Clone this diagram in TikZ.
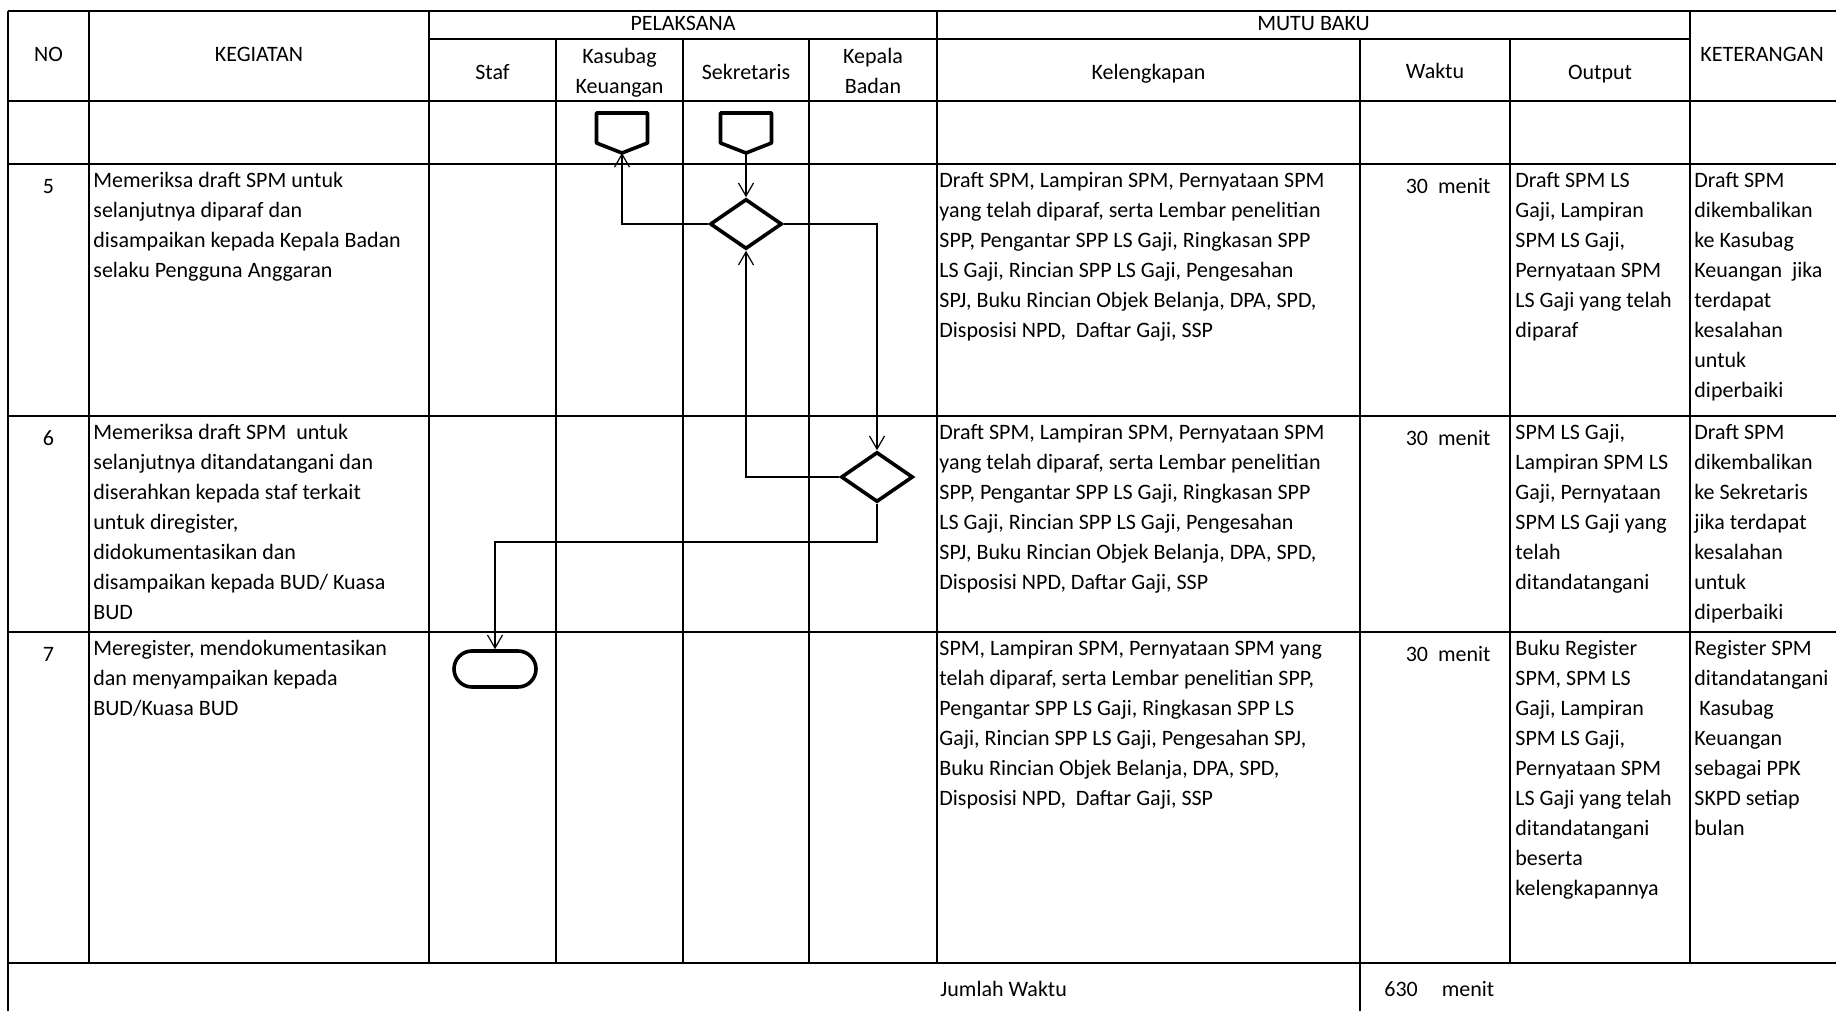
\documentclass[tikz,border=0pt]{standalone}
\usepackage{fontspec}
\setmainfont{Carlito}
\usetikzlibrary{arrows.meta, shapes.geometric, shapes.misc}

\begin{document}
\begin{tikzpicture}[x=0.5pt, y=-0.5pt,
  font=\fontsize{11}{15}\selectfont,
  rowline/.style={line width=1.3pt},
  colline/.style={line width=0.85pt},
  cell/.style={inner sep=0pt, anchor=north west, align=left, execute at begin node=\strut, execute at end node=\strut},
  head/.style={inner sep=0pt, align=center, execute at begin node=\strut, execute at end node=\strut},
  flow/.style={draw, line width=1.8pt, inner sep=0pt},
  decision/.style={flow, diamond, minimum width=36pt, minimum height=25pt},
  terminal/.style={flow, rounded rectangle, minimum width=41pt, minimum height=18pt},
  offpage/.style={inner sep=0pt, outer sep=0pt, minimum width=25.5pt, minimum height=20pt},
  link/.style={line width=0.6pt, -{Straight Barb[length=6.5pt, width=7.5pt]}}]

  \useasboundingbox (0,0) rectangle (1836,1011);
  \clip (0,0) rectangle (1836,1011);

  % Grid
  \foreach \y in {11,101,164,416,632,963}
    \draw[rowline] (8,\y) -- (1836,\y);
  \draw[rowline] (429,39) -- (1690,39);
  \draw[rowline] (8,11) -- (8,1011);
  \foreach \x in {89,429,937,1690}
    \draw[colline] (\x,11) -- (\x,963);
  \foreach \x in {556,683,809,1510}
    \draw[colline] (\x,39) -- (\x,963);
  \draw[colline] (1360,39) -- (1360,1011);

  % Header
  \node[head] (no) at (48.5,56) {NO};
  \node[head] (kegiatan) at (259,56) {KEGIATAN};
  \node[head] (pelaksana) at (683,25) {PELAKSANA};
  \node[head] (mutu) at (1313.5,25) {MUTU BAKU};
  \node[head] (keterangan) at (1762,56) {KETERANGAN};
  \node[head] (staf) at (492.5,74) {Staf};
  \node[head] (kasubaghd) at (619.5,75) {Kasubag\\Keuangan};
  \node[head] (sekretarishd) at (746,74) {Sekretaris};
  \node[head] (kepalahd) at (873,75) {Kepala\\Badan};
  \node[head] (kelengkapan) at (1148.5,74) {Kelengkapan};
  \node[head] (waktu) at (1435,73) {Waktu};
  \node[head] (output) at (1600,74) {Output};

  % Row 5
  \node[cell, anchor=north] (no5) at (48.5,172) {5};
  \node[cell] (keg5) at (93,172) {Memeriksa draft SPM untuk\\selanjutnya diparaf dan\\disampaikan kepada Kepala Badan\\selaku Pengguna Anggaran};
  \node[cell] (kel5) at (939,172) {Draft SPM, Lampiran SPM, Pernyataan SPM\\yang telah diparaf, serta Lembar penelitian\\SPP, Pengantar SPP LS Gaji, Ringkasan SPP\\LS Gaji, Rincian SPP LS Gaji, Pengesahan\\SPJ, Buku Rincian Objek Belanja, DPA, SPD,\\Disposisi NPD,\ \ Daftar Gaji, SSP};
  \node[cell, anchor=north east] (wkt5) at (1491,172) {30\hspace{5pt}menit};
  \node[cell] (out5) at (1515,172) {Draft SPM LS\\Gaji, Lampiran\\SPM LS Gaji,\\Pernyataan SPM\\LS Gaji yang telah\\diparaf};
  \node[cell] (ket5) at (1694,172) {Draft SPM\\dikembalikan\\ke Kasubag\\Keuangan\ \ jika\\terdapat\\kesalahan\\untuk\\diperbaiki};

  % Row 6
  \node[cell, anchor=north] (no6) at (48.5,424) {6};
  \node[cell] (keg6) at (93,424) {Memeriksa draft SPM\ \ untuk\\selanjutnya ditandatangani dan\\diserahkan kepada staf terkait\\untuk diregister,\\didokumentasikan dan\\disampaikan kepada BUD/ Kuasa\\BUD};
  \node[cell] (kel6) at (939,424) {Draft SPM, Lampiran SPM, Pernyataan SPM\\yang telah diparaf, serta Lembar penelitian\\SPP, Pengantar SPP LS Gaji, Ringkasan SPP\\LS Gaji, Rincian SPP LS Gaji, Pengesahan\\SPJ, Buku Rincian Objek Belanja, DPA, SPD,\\Disposisi NPD, Daftar Gaji, SSP};
  \node[cell, anchor=north east] (wkt6) at (1491,424) {30\hspace{5pt}menit};
  \node[cell] (out6) at (1515,424) {SPM LS Gaji,\\Lampiran SPM LS\\Gaji, Pernyataan\\SPM LS Gaji yang\\telah\\ditandatangani};
  \node[cell] (ket6) at (1694,424) {Draft SPM\\dikembalikan\\ke Sekretaris\\jika terdapat\\kesalahan\\untuk\\diperbaiki};

  % Row 7
  \node[cell, anchor=north] (no7) at (48.5,640) {7};
  \node[cell] (keg7) at (93,640) {Meregister, mendokumentasikan\\dan menyampaikan kepada\\BUD/Kuasa BUD};
  \node[cell] (kel7) at (939,640) {SPM, Lampiran SPM, Pernyataan SPM yang\\telah diparaf, serta Lembar penelitian SPP,\\Pengantar SPP LS Gaji, Ringkasan SPP LS\\Gaji, Rincian SPP LS Gaji, Pengesahan SPJ,\\Buku Rincian Objek Belanja, DPA, SPD,\\Disposisi NPD,\ \ Daftar Gaji, SSP};
  \node[cell, anchor=north east] (wkt7) at (1491,640) {30\hspace{5pt}menit};
  \node[cell] (out7) at (1515,640) {Buku Register\\SPM, SPM LS\\Gaji, Lampiran\\SPM LS Gaji,\\Pernyataan SPM\\LS Gaji yang telah\\ditandatangani\\beserta\\kelengkapannya};
  \node[cell] (ket7) at (1694,640) {Register SPM\\ditandatangani\\\hspace*{2.5pt}Kasubag\\Keuangan\\sebagai PPK\\SKPD setiap\\bulan};

  % Footer
  \node[head, anchor=west] (jumlah) at (940,990) {Jumlah Waktu};
  \node[head, anchor=west] (total) at (1384,990) {630\hspace{12pt}menit};

  % Flow
  \node[offpage] (kasubag) at (622,133) {};
  \node[offpage] (sekretaris) at (746,133) {};
  \foreach \n in {kasubag,sekretaris}
    \draw[line width=1.8pt, line join=round] (\n.north west) -- (\n.north east) -- ([yshift=5pt]\n.south east) -- (\n.south) -- ([yshift=5pt]\n.south west) -- cycle;
  \node[decision] (periksa) at (746,224) {};
  \node[decision] (tandatangan) at (877,477) {};
  \node[terminal] (register) at (495,669) {};
  \coordinate (turn) at (877,542);

  \draw[link] (sekretaris.south) -- (periksa.north);
  \draw[link] (periksa.west) -| (kasubag.south);
  \draw[link] (periksa.east) -| (tandatangan.north);
  \draw[link] (tandatangan.west) -| (periksa.south);
  \draw[link] (tandatangan.south) -- (turn) -| (register.north);
\end{tikzpicture}
\end{document}
